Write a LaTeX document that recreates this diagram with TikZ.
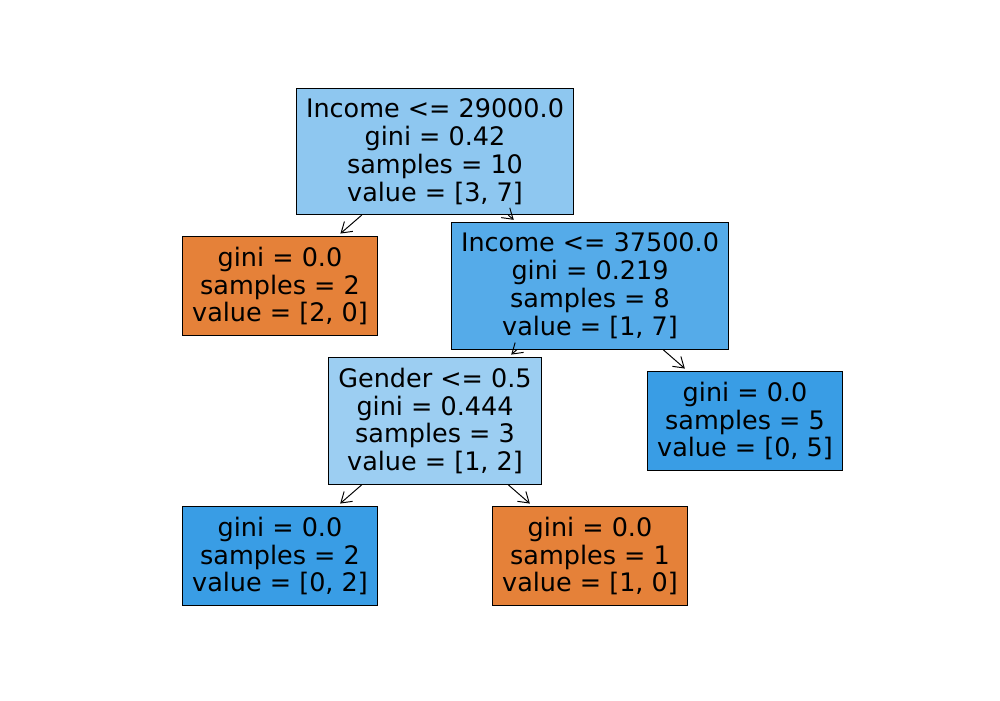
\documentclass[tikz,border=0pt]{standalone}
\usepackage{fontspec}
\setmainfont{DejaVu Sans}
\usetikzlibrary{arrows.meta}
\definecolor{leaforange}{HTML}{E58139}
\definecolor{leafblue}{HTML}{399DE5}
\definecolor{rootblue}{HTML}{8EC7F0}
\definecolor{midblue}{HTML}{55ABE9}
\definecolor{paleblue}{HTML}{9CCEF2}

\begin{document}
\begin{tikzpicture}
[x=0.02cm,y=-0.02cm,
 treenode/.style={draw=black,line width=0.6pt,align=center,inner xsep=0.19cm,inner ysep=0.2cm,
   font=\fontsize{14.5}{15.9}\selectfont},
 edge/.style={-{Straight Barb[length=0.2cm,width=0.26cm]},line width=0.55pt,shorten >=0.08cm}]
\useasboundingbox (0,0) rectangle (1000,700);
\node[treenode,fill=rootblue] (root) at (435,151.5) {Income <= 29000.0\\gini = 0.42\\samples = 10\\value = [3, 7]};
\node[treenode,fill=leaforange] (left) at (280,286) {gini = 0.0\\samples = 2\\value = [2, 0]};
\node[treenode,fill=midblue] (income) at (590,286) {Income <= 37500.0\\gini = 0.219\\samples = 8\\value = [1, 7]};
\node[treenode,fill=paleblue] (gender) at (435,421) {Gender <= 0.5\\gini = 0.444\\samples = 3\\value = [1, 2]};
\node[treenode,fill=leafblue] (right) at (745,421) {gini = 0.0\\samples = 5\\value = [0, 5]};
\node[treenode,fill=leafblue] (genleft) at (280,556) {gini = 0.0\\samples = 2\\value = [0, 2]};
\node[treenode,fill=leaforange] (genright) at (590,556) {gini = 0.0\\samples = 1\\value = [1, 0]};
\foreach \a/\b in {root/left,root/income,income/gender,income/right,gender/genleft,gender/genright}
  \draw[edge] (\a) -- (\b);
\end{tikzpicture}
\end{document}
